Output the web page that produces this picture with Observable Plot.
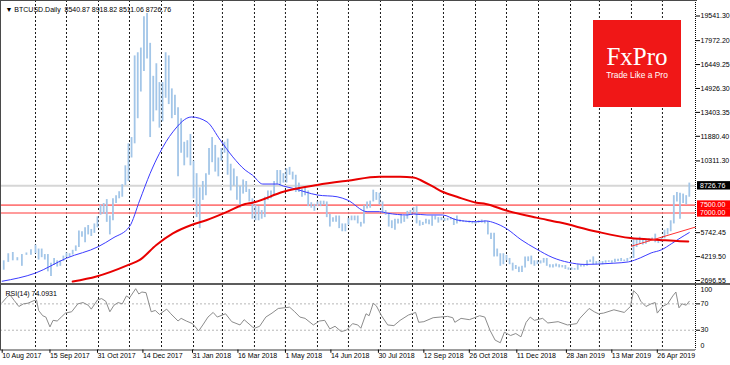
<!DOCTYPE html>
<html><head><meta charset="utf-8">
<script src="https://cdn.jsdelivr.net/npm/d3@7"></script>
<script src="https://cdn.jsdelivr.net/npm/@observablehq/plot@0.6"></script>
<style>
html,body{margin:0;padding:0;background:#fff;}
#chart{position:relative;width:730px;height:365px;overflow:hidden;background:#fff;font-family:"Liberation Sans",Arial,sans-serif;}
#sep{height:2px;background:#5c5c5c;}
.bd{position:absolute;background:#4a4a4a;}
.logo{position:absolute;left:593px;top:20px;width:88px;height:87px;background:#f01717;}
</style></head><body>
<div id="chart"></div>
<script>
// ---------- DATA ----------
const title = "▼ BTCUSD.Daily  8540.87 8918.82 8511.06 8726.76";
const rsiTitle = "RSI(14) 74.0931";

// daily bars sampled in 3-day buckets starting 10 Aug 2017 (low / high, USD)
const barStart = "2017-08-10";
const barStepDays = 3;
const barLow = [
 3350,3850,3950,3950,3600,4300,4300,4400,4000,4150,
 4000,3250,2950,3650,3550,3600,3900,4150,4180,4320,
 4550,4800,5450,5100,5600,5500,5700,6050,6850,6900,
 6400,5600,6500,7600,7900,8000,8750,9000,10500,11400,
 13000,14700,16000,16800,11800,12800,13500,12400,12800,14300,
 13900,13000,13200,9300,10800,10000,10500,10000,7900,6700,
 6000,7800,8100,9400,10200,9600,9300,10300,10800,9400,
 8400,8700,7800,7300,8200,8300,7700,6600,6500,6500,
 6600,6700,7800,7900,8100,8800,8700,8900,8900,9400,
 9100,8300,8300,8000,8100,7400,7300,7100,7400,7400,
 7500,6700,6100,6400,6400,6000,5800,5800,6200,6500,
 6500,6300,6100,6300,7250,7300,7700,7800,7500,6950,
 6850,6100,6000,5900,6300,6300,6400,6600,6850,7000,
 6300,6150,6200,6300,6250,6150,6550,6350,6500,6450,
 6500,6550,6200,6300,6400,6400,6380,6350,6300,6280,
 6350,6350,6300,5600,5300,4200,4200,3600,3700,3950,
 3700,3300,3400,3200,3200,3500,3900,3700,3600,3700,
 3750,3800,3600,3500,3500,3550,3500,3500,3400,3350,
 3350,3350,3350,3550,3550,3600,3850,3700,3700,3750,
 3700,3800,3850,3800,3850,3900,3900,3900,3900,4050,
 4100,4800,5000,4950,5000,5150,5250,5100,5050,5150,
 5350,5600,5800,6300,7700,6600,7600,7500,8000
];
const barHigh = [
 3950,4400,4480,4150,4350,4450,4650,4950,4700,4700,
 4350,4350,3800,4100,3950,3950,4250,4450,4400,4620,
 4900,5850,5800,6050,6200,5950,6300,6750,7500,7600,
 7850,6800,7900,8100,8350,8800,10000,11400,11800,17000,
 17200,17500,19500,19700,17800,15700,16500,15300,15300,17200,
 17000,14900,14500,13700,13000,11500,11600,12000,10300,9500,
 8600,9000,9500,11100,11800,11300,10500,11100,11500,11700,
 10100,9800,9300,8700,9100,9000,8500,7900,7500,7400,
 7150,8000,8400,8400,9000,9700,9700,9500,9800,9900,
 9600,9400,8900,8500,8550,8400,7650,7550,7700,7750,
 7750,7700,6900,6700,6800,6800,6300,6300,6650,6800,
 6800,6800,6400,7450,7700,7750,8450,8300,8250,7700,
 7150,7000,6500,6600,6600,6900,6800,7100,7150,7350,
 7400,6500,6400,6600,6550,6800,6800,6700,6700,6650,
 6650,6700,6650,6800,6550,6500,6480,6480,6450,6450,
 6500,6550,6500,6450,5700,5700,4700,4400,4400,4300,
 4100,3800,3650,3550,3600,4200,4200,4250,3950,3950,
 3950,4100,4100,3700,3700,3750,3700,3650,3650,3500,
 3500,3450,3700,3700,3650,3950,4000,4200,3900,3900,
 3900,3950,3950,3950,4050,4050,4100,4000,4100,4150,
 5300,5300,5450,5350,5250,5350,5400,5650,5300,5400,
 5900,6000,6500,8100,8300,8250,8200,8100,8900
];

// fast moving average (blue)
const maFastDates = ["2017-08-10","2017-09-01","2017-10-01","2017-11-01","2017-11-15","2017-12-01","2017-12-11","2017-12-21","2017-12-30","2018-01-12","2018-01-30","2018-02-14","2018-02-27","2018-03-11","2018-03-23","2018-03-30","2018-04-09","2018-04-23","2018-04-29","2018-05-08","2018-06-01","2018-06-20","2018-06-30","2018-07-19","2018-07-31","2018-08-08","2018-08-27","2018-09-02","2018-09-15","2018-09-30","2018-10-14","2018-11-02","2018-11-11","2018-11-20","2018-12-01","2018-12-15","2018-12-30","2019-01-15","2019-01-30","2019-02-15","2019-02-27","2019-03-15","2019-03-29","2019-04-10","2019-04-20","2019-04-30","2019-05-10","2019-05-17","2019-05-27"];
const maFastValues = [2650,3170,4120,4860,5400,6130,7820,9520,10790,12160,13110,12800,11630,10570,9730,9410,8840,8840,8710,8570,8140,8030,7820,7080,7080,6980,6870,6930,6870,6870,6550,6440,6490,6350,6000,5300,4700,4150,3850,3720,3740,3800,3880,4150,4450,4650,5050,5350,5750];

// slow moving average (red)
const maSlowDates = ["2017-10-07","2017-10-30","2017-11-30","2017-12-11","2017-12-27","2018-01-12","2018-01-30","2018-02-14","2018-03-06","2018-03-23","2018-03-30","2018-04-29","2018-06-01","2018-06-30","2018-07-31","2018-08-20","2018-09-02","2018-09-10","2018-09-21","2018-09-30","2018-10-14","2018-11-02","2018-11-11","2018-12-01","2018-12-30","2019-01-21","2019-02-27","2019-03-31","2019-04-28","2019-05-18","2019-05-26"];
const maSlowValues = [2630,2950,3690,4010,4960,5700,6230,6550,7080,7570,7650,8350,8780,9050,9300,9300,9260,9050,8670,8350,8030,7650,7570,7150,6700,6400,5800,5400,5280,5200,5180];

// trend line
const trendDates = ["2019-04-01","2019-06-02"];
const trendValues = [4880, 6100];

// horizontal levels
const lastPrice = 8726.76;
const levelValues = [7500, 7000];

// RSI(14)
const rsiDates = ["2017-08-10","2017-08-13","2017-08-15","2017-08-18","2017-08-21","2017-08-24","2017-08-27","2017-08-31","2017-09-02","2017-09-04","2017-09-08","2017-09-11","2017-09-15","2017-09-18","2017-09-22","2017-09-26","2017-09-30","2017-10-06","2017-10-12","2017-10-17","2017-10-22","2017-10-25","2017-10-31","2017-11-04","2017-11-08","2017-11-12","2017-11-16","2017-11-20","2017-11-24","2017-11-28","2017-12-01","2017-12-07","2017-12-10","2017-12-13","2017-12-17","2017-12-22","2017-12-26","2017-12-30","2018-01-06","2018-01-10","2018-01-17","2018-01-20","2018-01-25","2018-01-31","2018-02-06","2018-02-10","2018-02-15","2018-02-20","2018-02-24","2018-03-04","2018-03-10","2018-03-18","2018-03-22","2018-03-30","2018-04-01","2018-04-06","2018-04-12","2018-04-18","2018-04-24","2018-05-05","2018-05-10","2018-05-15","2018-05-20","2018-05-28","2018-06-03","2018-06-08","2018-06-13","2018-06-18","2018-06-24","2018-06-29","2018-07-05","2018-07-10","2018-07-13","2018-07-18","2018-07-21","2018-07-25","2018-07-28","2018-08-02","2018-08-08","2018-08-14","2018-08-20","2018-08-28","2018-09-04","2018-09-07","2018-09-12","2018-09-21","2018-09-28","2018-10-05","2018-10-10","2018-10-12","2018-10-18","2018-10-26","2018-11-05","2018-11-10","2018-11-15","2018-11-20","2018-11-25","2018-11-29","2018-12-05","2018-12-10","2018-12-15","2018-12-20","2018-12-24","2018-12-28","2019-01-05","2019-01-10","2019-01-20","2019-01-29","2019-02-07","2019-02-10","2019-02-19","2019-02-24","2019-02-28","2019-03-05","2019-03-15","2019-03-25","2019-03-31","2019-04-03","2019-04-07","2019-04-10","2019-04-15","2019-04-20","2019-04-24","2019-04-26","2019-05-01","2019-05-06","2019-05-11","2019-05-14","2019-05-17","2019-05-20","2019-05-24","2019-05-27"];
const rsiValues = [72,80,84,75,66,70,71,75,76,60,52,50,35,45,44,50,56,58,70,72,68,62,76,78,74,58,68,72,70,82,79,93,85,88,87,58,60,54,62,55,44,48,44,40,29,38,50,57,50,55,43,38,46,35,33,36,50,56,63,65,58,50,48,38,44,45,32,36,28,30,40,38,33,55,52,71,67,52,38,37,45,53,57,42,43,49,50,51,49,42,48,46,52,50,30,15,11,27,22,25,20,42,50,45,48,41,43,38,40,48,63,58,55,56,61,57,66,90,84,74,66,70,72,56,66,70,82,88,64,70,68,74];
const rsiLevels = [70, 30];

// axis ticks
const priceTicks = [19541.30, 17972.20, 16449.25, 14926.30, 13403.35, 11880.40, 10311.30, 5742.45, 4219.50, 2696.55];
const dateTicks = ["2017-08-10","2017-09-15","2017-10-31","2017-12-14","2018-01-31","2018-03-16","2018-05-01","2018-06-14","2018-07-30","2018-09-12","2018-10-26","2018-12-11","2019-01-28","2019-03-13","2019-04-26"];
const priceBoxes = [
  {value: 8726.76, fill: "#000000"},
  {value: 7500.00, fill: "#ff0000"},
  {value: 7000.00, fill: "#ff0000"}
];

// ---------- BUILD ----------
const D = s => new Date(s);
const bars = barLow.map((lo, i) => ({date: d3.utcDay.offset(D(barStart), i * barStepDays + 1), low: lo, high: barHigh[i]}));
const maFast = maFastDates.map((d, i) => ({date: D(d), v: maFastValues[i]}));
const maSlow = maSlowDates.map((d, i) => ({date: D(d), v: maSlowValues[i]}));
const trend = trendDates.map((d, i) => ({date: D(d), v: trendValues[i]}));
const rsi = rsiDates.map((d, i) => ({date: D(d), v: rsiValues[i]}));
const ticksX = dateTicks.map(D);
const xStart = D("2017-08-10"), xBreak = D("2017-09-01"), xEnd = D("2019-06-02");
const months = d3.utcMonths(xStart, D("2019-06-01"));
const fmtDate = d3.utcFormat("%-d %b %Y");

const font = '"Liberation Sans", Arial, sans-serif';
const style = {fontFamily: font, fontSize: "7px", color: "#000", background: "transparent", overflow: "visible"};
const xOpts = {type: "utc", domain: [xStart, xBreak, xEnd], range: [1.7, 35, 695], axis: null};
const gridOpts = {stroke: "#1a1a1a", strokeDasharray: "2,2", strokeWidth: 1};

function boxesMark(index, scales, values, dims) {
  const g = d3.create("svg:g").attr("text-anchor", "start");
  const x0 = 697;
  for (const b of priceBoxes) {
    const y = scales.y(b.value);
    g.append("rect").attr("x", x0).attr("y", y - 4.2).attr("width", 33).attr("height", 8.4).attr("fill", b.fill);
  }
  for (const b of priceBoxes) {
    const y = scales.y(b.value);
    g.append("text").attr("x", x0 + 3).attr("y", y).attr("dy", "0.34em").attr("text-anchor", "start")
      .attr("fill", "#fff").attr("font-size", 7).attr("font-family", font).text(b.value.toFixed(2));
  }
  return g.node();
}

const main = Plot.plot({
  width: 730, height: 283, marginLeft: 0, marginRight: 35, marginTop: 0, marginBottom: 0,
  style,
  x: xOpts,
  y: {domain: [2696.55, 19541.3], range: [280, 15.5], axis: "right", ticks: priceTicks,
      tickFormat: d => d.toFixed(2), tickSize: 4, tickPadding: 1, label: null},
  marks: [
    Plot.ruleX(months, gridOpts),
    Plot.ruleY([lastPrice], {stroke: "#d6d6d6", strokeWidth: 2}),
    Plot.ruleY(levelValues, {stroke: "#ff7a7a", strokeWidth: 1.6}),
    Plot.ruleX(bars, {x: "date", y1: "low", y2: "high", stroke: "#a3c6e8", strokeWidth: 1.8}),
    Plot.line(maFast, {x: "date", y: "v", stroke: "#3b3bff", strokeWidth: 1, curve: "monotone-x"}),
    Plot.line(maSlow, {x: "date", y: "v", stroke: "#e80000", strokeWidth: 2, curve: "monotone-x"}),
    Plot.line(trend, {x: "date", y: "v", stroke: "#ff3030", strokeWidth: 1}),
    Plot.ruleX([xEnd], {stroke: "#000", strokeDasharray: "1,1"}),
    Plot.text([title], {frameAnchor: "top-left", dx: 5, dy: 7, textAnchor: "start", fill: "#000"}),
    boxesMark
  ]
});

const rsiPlot = Plot.plot({
  width: 730, height: 80, marginLeft: 0, marginRight: 35, marginTop: 0, marginBottom: 15.5,
  style,
  x: xOpts,
  y: {domain: [0, 100], range: [64.5, -1.4], axis: "right", ticks: rsiLevels, tickSize: 4, tickPadding: 1, label: null},
  marks: [
    Plot.ruleX(months, gridOpts),
    Plot.ruleY(rsiLevels, {stroke: "#b8b8b8", strokeDasharray: "2,2"}),
    Plot.line(rsi, {x: "date", y: "v", stroke: "#8c8c8c", strokeWidth: 1}),
    Plot.ruleY([0], {stroke: "#3a3a3a"}),
    Plot.ruleX([xEnd], {stroke: "#000", strokeDasharray: "1,1"}),
    Plot.ruleX(ticksX, {x: d => d, y1: 0, y2: -5, stroke: "#000"}),
    Plot.text(ticksX, {x: d => d, text: d => fmtDate(d), frameAnchor: "bottom", textAnchor: "start", dy: 8, fill: "#000"}),
    Plot.text([rsiTitle], {frameAnchor: "top-left", dx: 5, dy: 6, textAnchor: "start", fill: "#000"}),
    Plot.text([100], {y: d => d, text: d => String(d), frameAnchor: "right", dx: 5, dy: 5.5, textAnchor: "start", fill: "#000"}),
    Plot.text([0], {y: d => d, text: d => String(d), frameAnchor: "right", dx: 5, dy: -4.5, textAnchor: "start", fill: "#000"})
  ]
});

const chart = document.getElementById("chart");
chart.appendChild(main);
const sep = document.createElement("div"); sep.id = "sep"; chart.appendChild(sep);
chart.appendChild(rsiPlot);

// frame borders and logo
chart.insertAdjacentHTML("beforeend",
  '<div class="bd" style="left:0;top:0;width:697px;height:1px"></div>' +
  '<div class="bd" style="left:0;top:0;width:1px;height:350px"></div>' +
  '<div class="logo"><svg width="88" height="87">' +
  '<text x="44" y="45" text-anchor="middle" fill="#fff" font-family="Liberation Serif, Times New Roman, serif" font-size="25">FxPro</text>' +
  '<text x="44" y="58" text-anchor="middle" fill="#fff" font-family="Liberation Sans, Arial, sans-serif" font-size="8.4">Trade Like a Pro</text>' +
  '</svg></div>');
</script>
</body></html>
